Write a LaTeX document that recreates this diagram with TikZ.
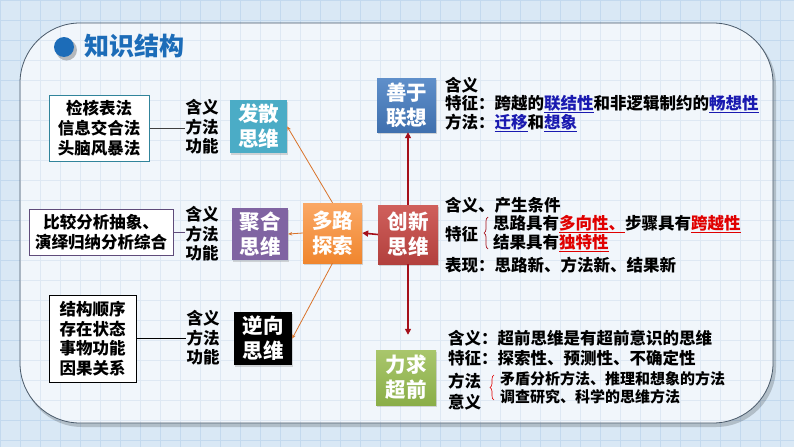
\documentclass[tikz,border=0pt]{standalone}
\usepackage{fontspec}
\setmainfont{Noto Sans CJK SC}
\usetikzlibrary{arrows.meta,shadows,decorations.pathreplacing}
\definecolor{bgc}{HTML}{D9E8F5}
\definecolor{gridc}{HTML}{C3D9EE}
\definecolor{panelc}{HTML}{F1F6FB}
\definecolor{pgridc}{HTML}{DEE8F3}
\definecolor{panelborder}{HTML}{4A5A6A}
\definecolor{titleblue}{HTML}{1C6CB8}
\definecolor{teal}{HTML}{4BACC6}
\definecolor{purp}{HTML}{8064A2}
\definecolor{orgA}{HTML}{FAA865}
\definecolor{orgB}{HTML}{F0862E}
\definecolor{redA}{HTML}{D0605C}
\definecolor{redB}{HTML}{B2403D}
\definecolor{bluA}{HTML}{5F8FCA}
\definecolor{bluB}{HTML}{3F70AE}
\definecolor{grnA}{HTML}{A9C66C}
\definecolor{grnB}{HTML}{8AAE48}
\definecolor{darkred}{HTML}{A50F1A}
\definecolor{orline}{HTML}{D9732A}
\definecolor{ulblue}{HTML}{1A1AB0}
\definecolor{ulred}{HTML}{E00000}
\definecolor{tealborder}{HTML}{31849B}
\definecolor{purpborder}{HTML}{5F4B7A}
\newcommand\ublue[1]{\textcolor{ulblue}{\underline{#1}}}
\newcommand\ured[1]{\textcolor{ulred}{\underline{#1}}}
\begin{document}
\begin{tikzpicture}[x=1pt,y=-1pt,
  mbox/.style={minimum width=58pt, minimum height=54pt, inner sep=0pt, text=white, align=center,
    font=\fontsize{20.5}{25}\selectfont\bfseries,
    drop shadow={opacity=0.3,shadow xshift=1.2pt,shadow yshift=-1.5pt}},
  lbox/.style={draw, line width=1pt, fill=white, inner sep=0pt, align=center,
    font=\fontsize{16.5}{20}\selectfont\bfseries},
  labs/.style={inner sep=0pt, align=center, font=\fontsize{16.5}{19.5}\selectfont\bfseries},
  rtxt/.style={anchor=west, inner sep=0pt, font=\fontsize{16.5}{19}\selectfont\bfseries},
  stxt/.style={anchor=west, inner sep=0pt, font=\fontsize{15}{18}\selectfont\bfseries},
  redarrow/.style={draw=darkred, line width=1.6pt, -{Triangle[length=6pt,width=6pt]}},
  orarrow/.style={draw=orline, line width=0.8pt, -{Stealth[length=4pt,width=3.5pt]}},
  lnk/.style={line width=1pt}
]
\useasboundingbox (0,0) rectangle (794,447);
\fill[bgc] (0,0) rectangle (794,447);
\foreach \x in {0,20,...,780} \draw[gridc, line width=0.6pt] (\x,0) -- (\x,447);
\foreach \y in {0,20,...,440} \draw[gridc, line width=0.6pt] (0,\y) -- (794,\y);
% panel
\fill[black, opacity=0.18, rounded corners=60pt] (22,26) rectangle (776,427);
\fill[panelc, rounded corners=60pt] (20,23) rectangle (773,423);
\begin{scope}
\clip[rounded corners=60pt] (20,23) rectangle (773,423);
\foreach \x in {20,40,...,780} \draw[pgridc, line width=0.5pt] (\x,0) -- (\x,447);
\foreach \y in {20,40,...,440} \draw[pgridc, line width=0.5pt] (0,\y) -- (794,\y);
\end{scope}
\draw[panelborder, line width=0.8pt, rounded corners=60pt] (20,23) rectangle (773,423);
% title
\fill[black, opacity=0.25] (66.5,50) circle (10.5);
\fill[titleblue] (64,47) circle (10);
\node[anchor=west, inner sep=0pt, text=titleblue, font=\fontsize{25}{28}\selectfont\bfseries] (title) at (84,46) {知识结构};
% main boxes
\node[mbox, fill=teal, minimum width=57pt, minimum height=53pt] (fs) at (258.5,126.5) {发散\\思维};
\node[mbox, fill=purp, minimum width=56pt, minimum height=52pt] (jh) at (260,234) {聚合\\思维};
\node[mbox, fill=black, minimum width=58pt, minimum height=53pt] (nx) at (263,338.5) {逆向\\思维};
\node[mbox, top color=orgA, bottom color=orgB, minimum width=59pt, minimum height=60pt] (dl) at (332.5,233) {多路\\探索};
\node[mbox, top color=redA, bottom color=redB, minimum width=60pt, minimum height=59pt] (cx) at (408,234.5) {创新\\思维};
\node[mbox, top color=bluA, bottom color=bluB, minimum width=59pt, minimum height=54pt] (sy) at (406.5,105) {善于\\联想};
\node[mbox, top color=grnA, bottom color=grnB, minimum width=60pt, minimum height=55pt] (lq) at (406,377.5) {力求\\超前};
% connectors
\draw[redarrow] (cx.north) -- (cx.north |- sy.south);
\draw[redarrow, shorten >=15pt] (cx.south) -- (cx.south |- lq.north);
\draw[redarrow] (cx.west) -- (dl.east);
\draw[orarrow] (dl.west) -- (jh.east);
\draw[orarrow] (dl.north) -- (fs.east);
\draw[orarrow] (dl.south) -- (nx.east);
% left side
\node[lbox, draw=tealborder, minimum width=100pt, minimum height=66pt] (b1) at (99,128) {检核表法\\信息交合法\\头脑风暴法};
\node[labs] (l1) at (202,127) {含义\\方法\\功能};
\draw[lnk, draw=black!75] (b1.east) -- (b1.east -| l1.west);
\node[lbox, draw=purpborder, minimum width=144pt, minimum height=46pt] (b2) at (101,232) {比较分析抽象、\\演绎归纳分析综合};
\node[labs] (l2) at (202,234) {含义\\方法\\功能};
\draw[lnk, draw=purpborder] (b2.east) -- (b2.east -| l2.west);
\node[lbox, draw=black, minimum width=87pt, minimum height=87pt, font=\fontsize{16.5}{19.7}\selectfont\bfseries] (b3) at (92.5,338.5) {结构顺序\\存在状态\\事物功能\\因果关系};
\node[labs] (l3) at (203,338) {含义\\方法\\功能};
\draw[lnk, draw=black] (b3.east) -- (b3.east -| l3.west);
% right texts: 善于联想
\node[rtxt] (s1) at (445,85) {含义};
\node[rtxt] (s2) at (445,104) {特征：跨越的\ublue{联结性}和非逻辑制约的\ublue{畅想性}};
\node[rtxt] (s3) at (445,123) {方法：\ublue{迁移}和\ublue{想象}};
% 创新思维
\node[rtxt] (c1) at (445,205) {含义、产生条件};
\node[rtxt] (c2) at (445,234) {特征};
\draw[darkred, line width=0.7pt, decorate, decoration={brace, amplitude=4pt}] (488,249) -- (488,217);
\node[rtxt] (c3) at (493,224) {思路具有\ured{多向性、}步骤具有\ured{跨越性}};
\node[rtxt] (c4) at (493,243) {结果具有\ured{独特性}};
\node[rtxt] (c5) at (445,265) {表现：思路新、方法新、结果新};
% 力求超前
\node[rtxt] (q1) at (448,338) {含义：超前思维是有超前意识的思维};
\node[rtxt] (q2) at (448,358) {特征：探索性、预测性、不确定性};
\node[rtxt] (q3) at (448,381) {方法};
\node[rtxt] (q4) at (448,402) {意义};
\draw[ulred, line width=0.6pt, decorate, decoration={brace, amplitude=4pt}] (494,400) -- (494,375);
\node[stxt] (q5) at (500,379) {矛盾分析方法、推理和想象的方法};
\node[stxt] (q6) at (500,397) {调查研究、科学的思维方法};
\end{tikzpicture}
\end{document}
